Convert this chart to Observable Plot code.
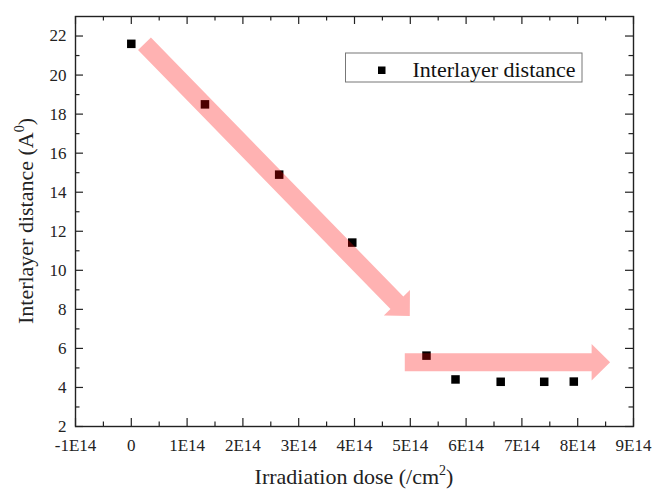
<!DOCTYPE html>
<html>
<head>
<meta charset="utf-8">
<script src="https://cdn.jsdelivr.net/npm/d3@7"></script>
<script src="https://cdn.jsdelivr.net/npm/@observablehq/plot@0.6"></script>
<style>
  html, body { margin: 0; padding: 0; background: #fff; }
  #chart { width: 652px; height: 489px; }
</style>
</head>
<body>
<div id="chart"></div>
<script>
// Irradiation dose (/cm^2) and measured interlayer distance (Å)
const doses = [0, 1.32e14, 2.65e14, 3.96e14, 5.29e14, 5.81e14, 6.62e14, 7.4e14, 7.93e14];
const distances = [21.6, 18.5, 14.9, 11.42, 5.63, 4.41, 4.29, 4.29, 4.3];

// Axis ticks and their labels
const xTicks = [-1e14, 0, 1e14, 2e14, 3e14, 4e14, 5e14, 6e14, 7e14, 8e14, 9e14];
const xTickLabels = ["-1E14", "0", "1E14", "2E14", "3E14", "4E14", "5E14", "6E14", "7E14", "8E14", "9E14"];
const xMinorTicks = [-0.5e14, 0.5e14, 1.5e14, 2.5e14, 3.5e14, 4.5e14, 5.5e14, 6.5e14, 7.5e14, 8.5e14];
const yTicks = [2, 4, 6, 8, 10, 12, 14, 16, 18, 20, 22];
const yMinorTicks = [3, 5, 7, 9, 11, 13, 15, 17, 19, 21];

// Trend arrows: start and tip in data units
const arrowStarts = [[0.245e14, 21.58], [4.91e14, 5.27]];
const arrowTips = [[5.0e14, 7.63], [8.59e14, 5.27]];

const data = doses.map((d, i) => ({dose: d, distance: distances[i]}));
const arrows = arrowStarts.map((s, i) => ({start: s, tip: arrowTips[i]}));

const W = 652, H = 489;
const mL = 75, mR = 19, mT = 16, mB = 63;
const plotW = W - mL - mR, plotH = H - mT - mB;
const major = 8, minor = 4.5;
const ink = "#222";
const serif = "'Liberation Serif', 'Times New Roman', serif";

// Filled block arrow drawn in screen space from data-space endpoints
function arrowLayer(index, scales, values, dimensions, context) {
  const g = d3.create("svg:g");
  for (const a of arrows) {
    const x0 = scales.x(a.start[0]), y0 = scales.y(a.start[1]);
    const x1 = scales.x(a.tip[0]), y1 = scales.y(a.tip[1]);
    const len = Math.hypot(x1 - x0, y1 - y0);
    const ux = (x1 - x0) / len, uy = (y1 - y0) / len;
    const nx = -uy, ny = ux;
    const w = 18, hw = 36.5, hl = 18.5;
    const bx = x1 - ux * hl, by = y1 - uy * hl;
    const pts = [
      [x0 + nx * w / 2, y0 + ny * w / 2],
      [bx + nx * w / 2, by + ny * w / 2],
      [bx + nx * hw / 2, by + ny * hw / 2],
      [x1, y1],
      [bx - nx * hw / 2, by - ny * hw / 2],
      [bx - nx * w / 2, by - ny * w / 2],
      [x0 - nx * w / 2, y0 - ny * w / 2]
    ];
    g.append("path")
      .attr("d", "M" + pts.map(p => p.join(",")).join("L") + "Z")
      .attr("fill", "#ff0000")
      .attr("fill-opacity", 0.3);
  }
  return g.node();
}

const chart = Plot.plot({
  width: W,
  height: H,
  marginLeft: mL,
  marginRight: mR,
  marginTop: mT,
  marginBottom: mB,
  style: {fontFamily: serif, fontSize: "17px", color: ink, background: "#fff"},
  x: {domain: [-1e14, 9e14], label: null},
  y: {domain: [2, 23], label: null},
  marks: [
    // inward ticks on all four sides
    Plot.ruleX(xTicks, {x: d => d, insetTop: plotH - major, stroke: ink, strokeWidth: 1.2}),
    Plot.ruleX(xTicks, {x: d => d, insetBottom: plotH - major, stroke: ink, strokeWidth: 1.2}),
    Plot.ruleX(xMinorTicks, {x: d => d, insetTop: plotH - minor, stroke: ink, strokeWidth: 1.2}),
    Plot.ruleX(xMinorTicks, {x: d => d, insetBottom: plotH - minor, stroke: ink, strokeWidth: 1.2}),
    Plot.ruleY(yTicks, {y: d => d, insetRight: plotW - major, stroke: ink, strokeWidth: 1.2}),
    Plot.ruleY(yTicks, {y: d => d, insetLeft: plotW - major, stroke: ink, strokeWidth: 1.2}),
    Plot.ruleY(yMinorTicks, {y: d => d, insetRight: plotW - minor, stroke: ink, strokeWidth: 1.2}),
    Plot.ruleY(yMinorTicks, {y: d => d, insetLeft: plotW - minor, stroke: ink, strokeWidth: 1.2}),
    Plot.axisX({ticks: xTicks, tickSize: 0, tickPadding: 12, tickFormat: d => xTickLabels[xTicks.indexOf(d)], label: null, fontSize: 17, fontFamily: serif}),
    Plot.axisY({ticks: yTicks, tickSize: 0, tickPadding: 9, tickFormat: d => String(d), label: null, fontSize: 17, fontFamily: serif}),
    Plot.dot(data, {x: "dose", y: "distance", symbol: "square", r: 4.8, fill: "#000", stroke: "none"}),
    arrowLayer,
    Plot.frame({stroke: ink, strokeWidth: 1.4})
  ]
});

const svg = d3.select(chart);

// x-axis title with superscript
const xt = svg.append("text")
  .attr("x", mL + plotW / 2).attr("y", 484)
  .attr("text-anchor", "middle")
  .attr("font-family", serif).attr("font-size", 22).attr("fill", ink);
xt.append("tspan").text("Irradiation dose (/cm");
xt.append("tspan").attr("font-size", 14).attr("dy", -9).text("2");
xt.append("tspan").attr("dy", 9).text(")");

// y-axis title with superscript
const yt = svg.append("text")
  .attr("transform", `translate(33,${mT + plotH / 2}) rotate(-90)`)
  .attr("text-anchor", "middle")
  .attr("font-family", serif).attr("font-size", 22).attr("fill", ink);
yt.append("tspan").text("Interlayer distance (A");
yt.append("tspan").attr("font-size", 14).attr("dy", -9).text("0");
yt.append("tspan").attr("dy", 9).text(")");

// legend
const lg = svg.append("g").attr("text-anchor", "start");
lg.append("rect")
  .attr("x", 345.5).attr("y", 53).attr("width", 236.5).attr("height", 29)
  .attr("fill", "#fff").attr("stroke", "#777").attr("stroke-width", 1);
lg.append("rect")
  .attr("x", 378).attr("y", 66.5).attr("width", 7.5).attr("height", 7.5)
  .attr("fill", "#000");
lg.append("text")
  .attr("x", 412.5).attr("y", 76.5)
  .attr("text-anchor", "start")
  .attr("font-family", serif).attr("font-size", 22).attr("fill", "#111")
  .text("Interlayer distance");

document.getElementById("chart").appendChild(chart);
</script>
</body>
</html>
